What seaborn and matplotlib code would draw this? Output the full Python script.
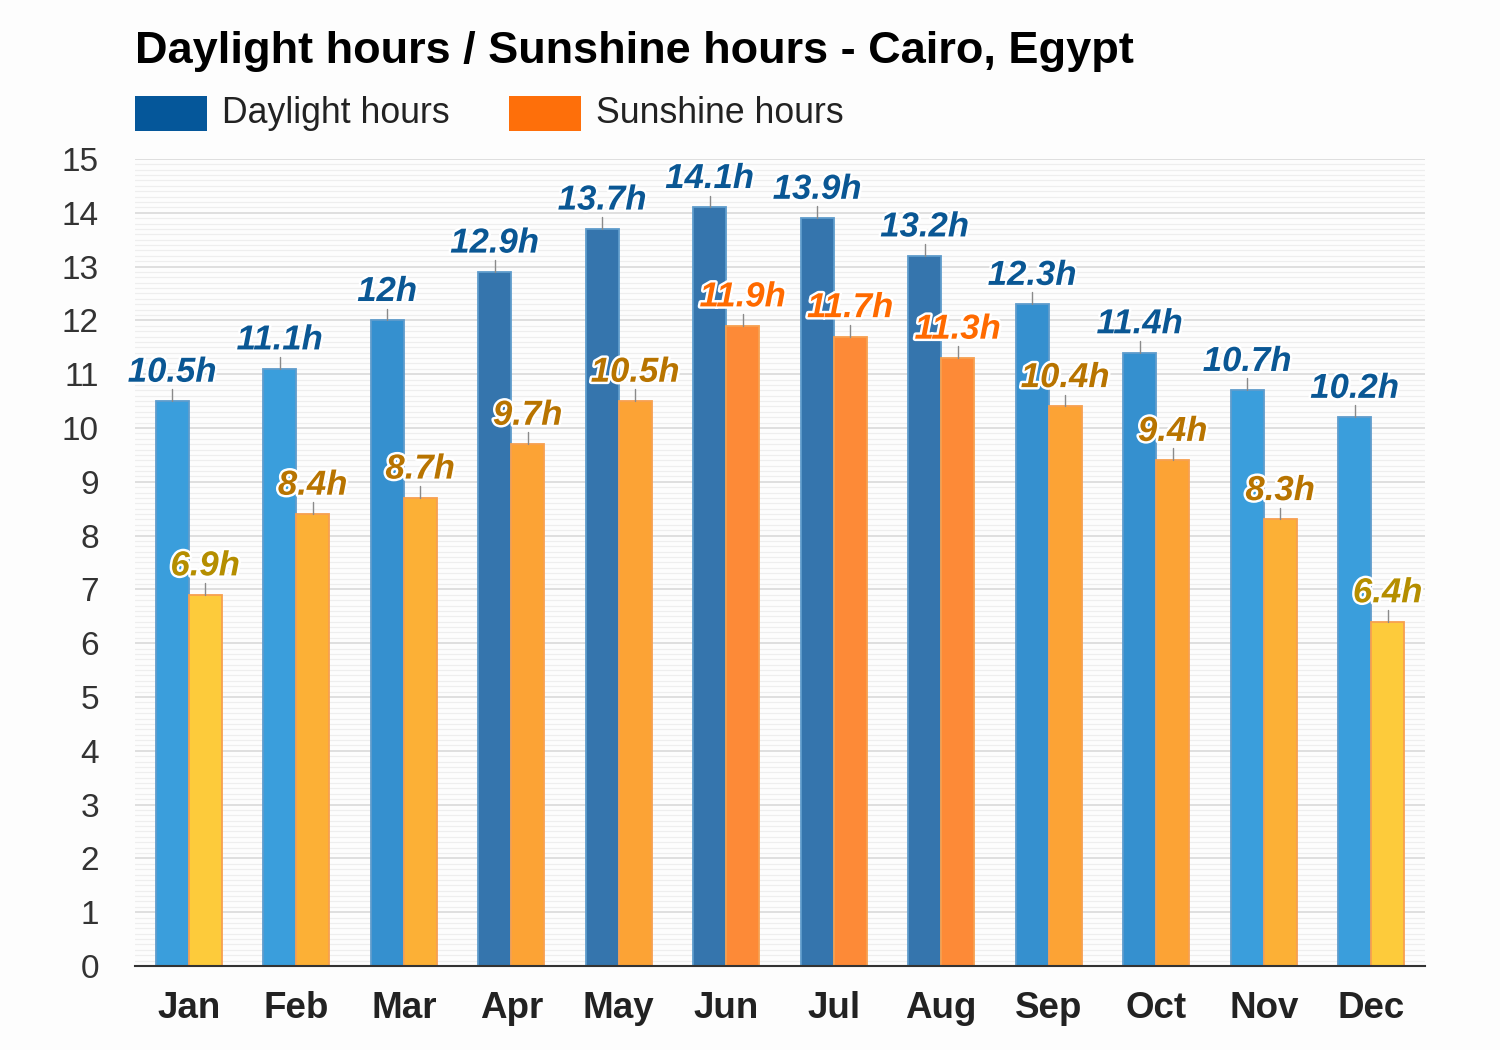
import numpy as np
import pandas as pd
import matplotlib
matplotlib.use("Agg")
import matplotlib.pyplot as plt
import seaborn as sns
from matplotlib.patches import Rectangle
import matplotlib.patheffects as pe
from matplotlib.ticker import MultipleLocator

# ---- data ----
months = ["Jan", "Feb", "Mar", "Apr", "May", "Jun", "Jul", "Aug", "Sep", "Oct", "Nov", "Dec"]
daylight = [10.5, 11.1, 12.0, 12.9, 13.7, 14.1, 13.9, 13.2, 12.3, 11.4, 10.7, 10.2]
sunshine = [6.9, 8.4, 8.7, 9.7, 10.5, 11.9, 11.7, 11.3, 10.4, 9.4, 8.3, 6.4]
series_names = ["Daylight hours", "Sunshine hours"]
title = "Daylight hours / Sunshine hours - Cairo, Egypt"
yticks = list(range(0, 16))

# ---- styles ----
sns.set_theme(style="white")
plt.rcParams["font.family"] = ["Liberation Sans", "DejaVu Sans"]
BG = "#fdfdfd"


def day_color(v):
    if v >= 12.8:
        return "#3575ad"
    if v >= 11.3:
        return "#3590cf"
    return "#3a9edc"


def sun_color(v):
    if v >= 11.0:
        return "#fd8a37"
    if v >= 9.3:
        return "#fca335"
    if v >= 8.0:
        return "#fcb036"
    return "#fdcb3b"


def sun_label_color(v):
    if v >= 11.0:
        return "#ff6a00"
    if v >= 8.0:
        return "#b87400"
    return "#b58e00"


fig = plt.figure(figsize=(15, 10.5), dpi=100, facecolor=BG)
ax = fig.add_axes([0.09, 0.08, 0.86, 0.7686], facecolor=BG)

df = pd.DataFrame({
    "Month": months * 2,
    "Hours": daylight + sunshine,
    "Series": [series_names[0]] * len(months) + [series_names[1]] * len(months),
})

sns.barplot(data=df, x="Month", y="Hours", hue="Series", order=months,
            hue_order=series_names, width=0.614, dodge=True, ax=ax,
            legend=False, saturation=1, errorbar=None)

bars = [p for p in ax.patches if isinstance(p, Rectangle) and p.get_height() > 0]
n = len(months)
day_bars = bars[:n]
sun_bars = bars[n:2 * n]

outline = [pe.withStroke(linewidth=3.5, foreground="white")]

for p, v in zip(day_bars, daylight):
    c = day_color(v)
    p.set_facecolor(c)
    p.set_edgecolor("#5f9ccc")
    p.set_linewidth(1.3)
    x = p.get_x() + p.get_width() / 2
    top = p.get_height()
    ax.plot([x, x], [top, top + 0.22], color="#8a8a8a", lw=1, zorder=3)
    ax.text(x, top + 0.36, f"{v:g}h", ha="center", va="baseline", fontsize=25,
            fontweight="bold", fontstyle="italic", color="#0a5794",
            path_effects=outline, zorder=4)

for p, v in zip(sun_bars, sunshine):
    c = sun_color(v)
    p.set_facecolor(c)
    p.set_edgecolor("#f7a050")
    p.set_linewidth(1.3)
    x = p.get_x() + p.get_width() / 2
    top = p.get_height()
    ax.plot([x, x], [top, top + 0.22], color="#8a8a8a", lw=1, zorder=3)
    ax.text(x, top + 0.36, f"{v:g}h", ha="center", va="baseline", fontsize=25,
            fontweight="bold", fontstyle="italic", color=sun_label_color(v),
            path_effects=outline, zorder=4)

ax.set_xlim(-0.5, len(months) - 0.5)
ax.set_ylim(0, 15)
ax.set_yticks(yticks)
ax.yaxis.set_minor_locator(MultipleLocator(0.1))
ax.set_axisbelow(True)
ax.grid(which="major", axis="y", color="#dadada", lw=1.2)
ax.grid(which="minor", axis="y", color="#eeeeee", lw=0.9)
ax.grid(which="major", axis="x", visible=False)
for s in ["left", "right", "top"]:
    ax.spines[s].set_visible(False)
ax.spines["bottom"].set_color("#333333")
ax.spines["bottom"].set_linewidth(1.5)
ax.set_xlabel("")
ax.set_ylabel("")
ax.tick_params(axis="y", which="both", length=0, pad=26, labelsize=24, labelcolor="#333333")
ax.tick_params(axis="x", length=0, pad=18, labelsize=26.5, labelcolor="#222222")
for t in ax.get_xticklabels():
    t.set_fontweight("bold")

# title
fig.text(135 / 1500, 1 - 63 / 1050, title, fontsize=32.5, fontweight="bold",
         color="#000000", ha="left", va="baseline")

# legend
leg_colors = ["#05579a", "#fe6f0a"]
leg_x = [135, 509]
for xpx, c, name in zip(leg_x, leg_colors, series_names):
    fig.patches.append(Rectangle((xpx / 1500, 1 - 131 / 1050), 72 / 1500, 35 / 1050,
                                 transform=fig.transFigure, facecolor=c, edgecolor="none"))
    fig.text((xpx + 87) / 1500, 1 - 123 / 1050, name, fontsize=25.7, color="#222222",
             ha="left", va="baseline")

fig.savefig("out.png", dpi=100, facecolor=BG)
